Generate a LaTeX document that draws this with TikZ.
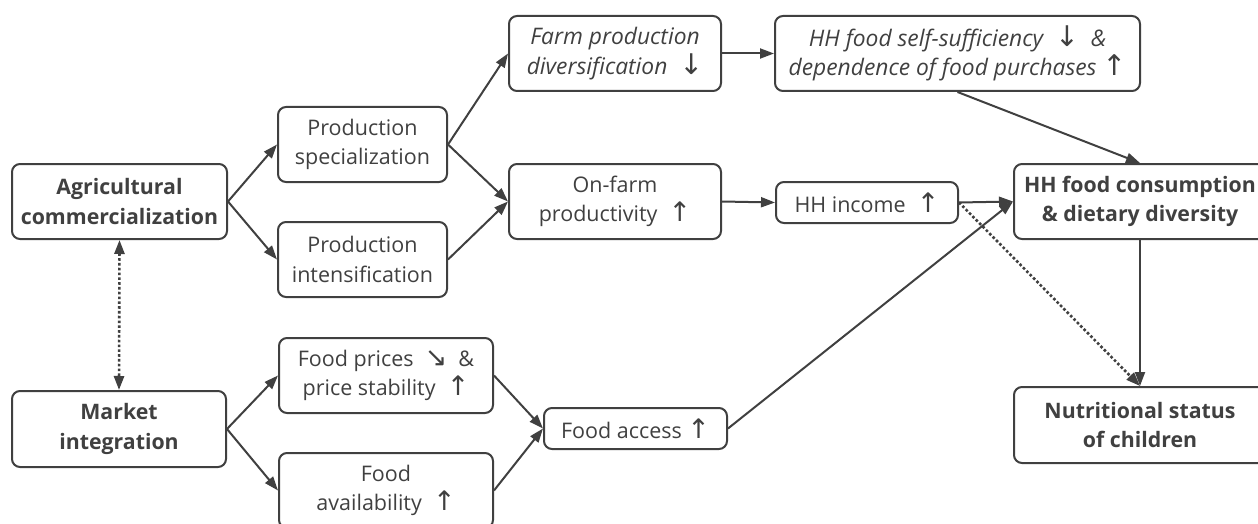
\documentclass[tikz,border=0pt]{standalone}
\usepackage{fontspec}
\setmainfont{Open Sans}
\newfontfamily\arrfont[Scale=1.25]{DejaVu Sans}
\usetikzlibrary{arrows.meta}
\definecolor{lc}{HTML}{404040}
\definecolor{tc}{HTML}{404040}
\newcommand{\myup}{{\arrfont ↑}}
\newcommand{\mydown}{{\arrfont ↓}}
\newcommand{\myse}{{\arrfont ↘}}
\tikzset{
  box/.style={draw=lc, line width=2pt, rounded corners=8pt, align=center, text=tc,
    inner sep=0pt, font=\fontsize{21.5}{29.5}\selectfont},
  bbox/.style={box, font=\fontsize{21.3}{29.5}\selectfont\bfseries},
  ibox/.style={box, font=\fontsize{22.8}{29.5}\selectfont\itshape},
  conn/.style={draw=lc, line width=2pt, -{Triangle[length=14pt,width=10pt]}},
  dotconn/.style={conn, line width=2.6pt, dash pattern=on 2.6pt off 2.2pt},
}
\begin{document}
\begin{tikzpicture}[x=1pt,y=-1pt]
\useasboundingbox (0,0) rectangle (1258,524);
\node[bbox, minimum width=215pt, minimum height=75pt] (agri) at (119.5,201.5) {Agricultural\\commercialization};
\node[bbox, minimum width=214pt, minimum height=76pt] (market) at (119,429) {Market\\integration};
\node[box, minimum width=169pt, minimum height=75pt] (spec) at (362.5,144.5) {Production\\specialization};
\node[box, minimum width=169pt, minimum height=75pt] (intens) at (362.5,259.5) {Production\\intensification};
\node[ibox, minimum width=212pt, minimum height=75pt] (farmdiv) at (615,53.5) {Farm production\\diversification~~\mydown};
\node[ibox, minimum width=365pt, minimum height=75pt] (selfsuff) at (957.5,53.5) {HH food self-sufficiency~~\mydown~~\&\\dependence of food purchases \myup};
\node[box, minimum width=212pt, minimum height=75pt] (onfarm) at (615,201.5) {On-farm\\productivity~~\myup};
\node[box, minimum width=182pt, minimum height=41pt] (income) at (867,202.5) {HH income~~\myup};
\node[bbox, minimum width=252pt, minimum height=75pt] (cons) at (1140,201.5) {HH food consumption\\\& dietary diversity};
\node[bbox, minimum width=252pt, minimum height=76pt] (nutr) at (1140,425) {Nutritional status\\of children};
\node[box, minimum width=214pt, minimum height=75pt] (prices) at (386,375.5) {Food prices~~\myse~~\&\\price stability~~\myup};
\node[box, minimum width=214pt, minimum height=75pt] (avail) at (386,490.5) {Food\\availability~~\myup};
\node[box, minimum width=183pt, minimum height=41pt] (access) at (635.5,428.5) {Food access \myup};

\draw[conn] (agri.east) -- (spec.west);
\draw[conn] (agri.east) -- (intens.west);
\draw[conn] (spec.east) -- (farmdiv.west);
\draw[conn] (spec.east) -- (onfarm.west);
\draw[conn] (intens.east) -- (onfarm.west);
\draw[conn] (farmdiv.east) -- (selfsuff.west);
\draw[conn] (onfarm.east) -- (income.west);
\draw[conn] (income.east) -- (cons.west);
\draw[conn] (selfsuff.south) -- (cons.north);
\draw[conn] (cons.south) -- (nutr.north);
\draw[dotconn] (income.east) -- (nutr.north);
\draw[conn] (market.east) -- (prices.west);
\draw[conn] (market.east) -- (avail.west);
\draw[conn] (prices.east) -- (access.west);
\draw[conn] (avail.east) -- (access.west);
\draw[conn] (access.east) -- (cons.west);
\draw[dotconn, {Triangle[length=14pt,width=10pt]}-{Triangle[length=14pt,width=10pt]}] (agri.south) -- (market.north);
\end{tikzpicture}
\end{document}
